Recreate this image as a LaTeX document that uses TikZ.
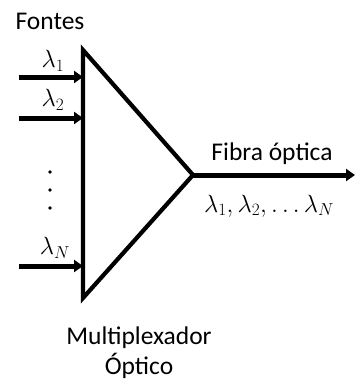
\documentclass[tikz,border=0pt]{standalone}
\usepackage{fontspec}
\setmainfont{Carlito}
\usetikzlibrary{arrows.meta}
\begin{document}
\begin{tikzpicture}[x=1pt,y=-1pt,>={Triangle[length=9pt,width=12pt]},
  txt/.style={inner sep=0pt,font=\fontsize{25.5}{30}\selectfont},
  edge/.style={->,line width=5pt},
  mux/.style={line width=4.2pt,line join=miter}]
\useasboundingbox (0,0) rectangle (355,383);
% multiplexer triangle
\coordinate (mtop) at (83,50);
\coordinate (mbot) at (83,298);
\coordinate (apex) at (193,175);
\draw[mux] (mtop)--(apex)--(mbot)--cycle;
% inputs
\coordinate (in1) at (19,77);
\coordinate (in2) at (19,118);
\coordinate (inN) at (19,266);
\coordinate (out) at (355,175);
\draw[edge] (in1)--(in1 -| mtop);
\draw[edge] (in2)--(in2 -| mtop);
\draw[edge] (inN)--(inN -| mtop);
\draw[edge] (apex)--(out);
\foreach \y in {172,190,208} \fill (50,\y) circle (1.8pt);
% labels
\node[txt] (fontes) at (50,21) {Fontes};
\node[txt] (lab1) at (53,61) {$\lambda_1$};
\node[txt] (lab2) at (53,100) {$\lambda_2$};
\node[txt] (labN) at (55,248) {$\lambda_N$};
\node[txt] (fibra) at (272,154) {Fibra óptica};
\node[txt] (lams) at (269,206) {$\lambda_1,\lambda_2,\ldots\lambda_N$};
\node[txt,align=center] (muxlab) at (139,353) {Multiplexador\\Óptico};
\end{tikzpicture}
\end{document}
